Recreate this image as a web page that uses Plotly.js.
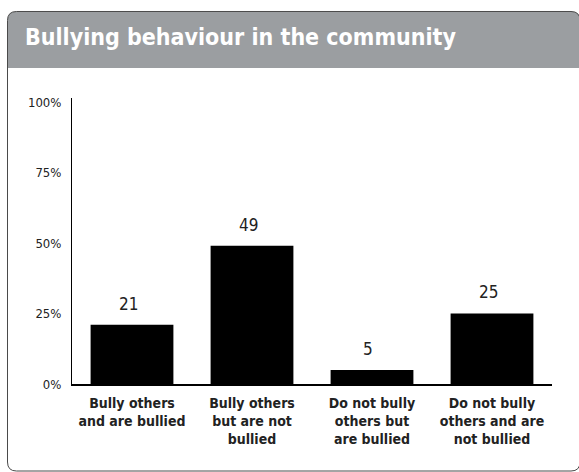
<!DOCTYPE html>
<html>
<head>
<meta charset="utf-8">
<script src="https://cdn.plot.ly/plotly-3.0.1.min.js"></script>
<style>
  html, body { margin: 0; padding: 0; background: #fff; }
  #chart { width: 579px; height: 472px; }
</style>
</head>
<body>
<div id="chart"></div>
<script>
const chartTitle = "Bullying behaviour in the community";
const categories = [
  "Bully others<br>and are bullied",
  "Bully others<br>but are not<br>bullied",
  "Do not bully<br>others but<br>are bullied",
  "Do not bully<br>others and are<br>not bullied"
];
const values = [21, 49, 5, 25];
const yTickVals = [0, 25, 50, 75, 100];
const yTickText = ["0%", "25%", "50%", "75%", "100%"];

const W = 579, H = 472, L = 72, R = 27, T = 98, B = 88;
const PW = W - L - R, PH = H - T - B;
const px = x => (x - L) / PW;
const py = y => (H - B - y) / PH;
const pt = (x, y) => px(x).toFixed(5) + "," + py(y).toFixed(5);

function roundedPath(x0, y0, x1, y1, r, bottomRounded) {
  let p = "M" + pt(x0, y1 - (bottomRounded ? r : 0));
  p += " L" + pt(x0, y0 + r);
  p += " Q" + pt(x0, y0) + " " + pt(x0 + r, y0);
  p += " L" + pt(x1 - r, y0);
  p += " Q" + pt(x1, y0) + " " + pt(x1, y0 + r);
  if (bottomRounded) {
    p += " L" + pt(x1, y1 - r);
    p += " Q" + pt(x1, y1) + " " + pt(x1 - r, y1);
    p += " L" + pt(x0 + r, y1);
    p += " Q" + pt(x0, y1) + " " + pt(x0, y1 - r);
  } else {
    p += " L" + pt(x1, y1);
    p += " L" + pt(x0, y1);
  }
  return p + " Z";
}

const FONT = '"DejaVu Sans Condensed", "DejaVu Sans", sans-serif';

const trace = {
  type: "bar",
  x: categories,
  y: values,
  marker: { color: "#000000", line: { width: 0 } },
  hoverinfo: "skip"
};

const annotations = categories.map((c, i) => ({
  x: c, y: values[i], xref: "x", yref: "y",
  text: String(values[i]),
  showarrow: false,
  yanchor: "bottom",
  yshift: 9,
  xshift: -4,
  font: { family: FONT, size: 17, color: "#222222" }
}));

const layout = {
  width: W, height: H,
  margin: { l: L, r: R, t: T, b: B, pad: 0 },
  paper_bgcolor: "#ffffff",
  plot_bgcolor: "rgba(0,0,0,0)",
  showlegend: false,
  bargap: 0.31,
  title: {
    text: chartTitle,
    font: { family: FONT, size: 23, color: "#ffffff", weight: "bold" },
    xref: "container", yref: "container",
    x: 25 / W, xanchor: "left",
    y: 1 - 37 / H, yanchor: "middle"
  },
  xaxis: {
    type: "category",
    showline: true, linecolor: "#000000", linewidth: 2,
    ticks: "", showgrid: false, zeroline: false,
    tickfont: { family: FONT, size: 14, color: "#222222", weight: "bold" },
    ticklabelstandoff: 5
  },
  yaxis: {
    range: [0, 101.4],
    tickvals: yTickVals, ticktext: yTickText,
    showline: true, linecolor: "#000000", linewidth: 1,
    ticks: "", showgrid: false, zeroline: false,
    tickfont: { family: FONT, size: 13, color: "#222222" },
    ticklabelstandoff: 7
  },
  annotations: annotations,
  shapes: [
    {
      type: "path", xref: "paper", yref: "paper", layer: "below",
      path: roundedPath(7.5, 11.5, 580, 68, 9, false),
      fillcolor: "#9b9ea1", line: { width: 0 }
    },
    {
      type: "path", xref: "paper", yref: "paper", layer: "below",
      path: roundedPath(7.5, 11.5, 580, 471, 9, true),
      fillcolor: "rgba(0,0,0,0)", line: { color: "#4a4a4a", width: 1 }
    }
  ]
};

Plotly.newPlot("chart", [trace], layout, { staticPlot: true, displayModeBar: false });
</script>
</body>
</html>
